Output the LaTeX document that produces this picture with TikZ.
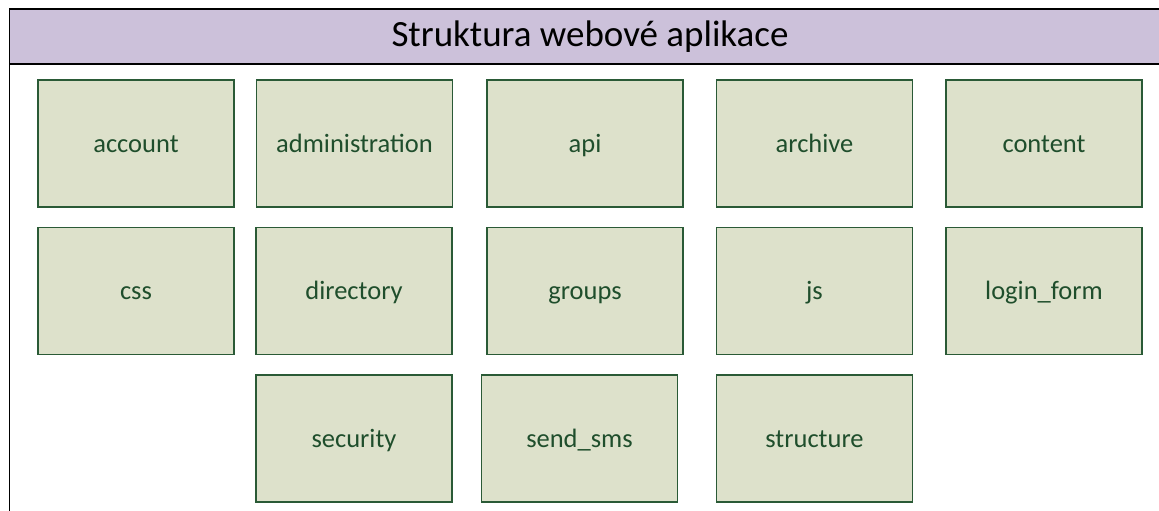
\documentclass[tikz,border=0pt]{standalone}
\usepackage{fontspec}
\setmainfont{Carlito}
\definecolor{titlefill}{HTML}{CCC1DA}
\definecolor{boxfill}{HTML}{DDE1CB}
\definecolor{boxline}{HTML}{2A5A36}
\definecolor{boxtext}{HTML}{1F4E2C}
\tikzset{
  folder/.style={draw=boxline, line width=1.1pt, fill=boxfill, text=boxtext,
    minimum width=196pt, minimum height=127pt, inner sep=0pt,
    text height=21pt, text depth=4pt,
    font=\fontsize{26.5}{30}\selectfont},
  frameline/.style={draw=black, line width=1.1pt}
}
\begin{document}
\begin{tikzpicture}[x=1pt,y=-1pt]
\useasboundingbox (0,0) rectangle (1159,511);
\clip (0,0) rectangle (1159,511);
\path[frameline, fill=white] (9.5,9) rectangle (1175,530);
\path[frameline, fill=titlefill] (9.5,9) rectangle (1175,64);
\node[font=\fontsize{37}{42}\selectfont, text=black] (title) at (590,37) {Struktura webové aplikace};
% row 1
\node[folder] (account) at (136,143.5) {account};
\node[folder] (administration) at (354.5,143.5) {administration};
\node[folder] (api) at (585,143.5) {api};
\node[folder] (archive) at (814.5,143.5) {archive};
\node[folder] (content) at (1044,143.5) {content};
% row 2
\node[folder] (css) at (136,291) {css};
\node[folder] (directory) at (354,291) {directory};
\node[folder] (groups) at (585,291) {groups};
\node[folder] (js) at (814.5,291) {js};
\node[folder] (loginform) at (1044,291) {login\_form};
% row 3
\node[folder] (security) at (354,438.5) {security};
\node[folder] (sendsms) at (579.5,438.5) {send\_sms};
\node[folder] (structure) at (814.5,438.5) {structure};
\end{tikzpicture}
\end{document}
